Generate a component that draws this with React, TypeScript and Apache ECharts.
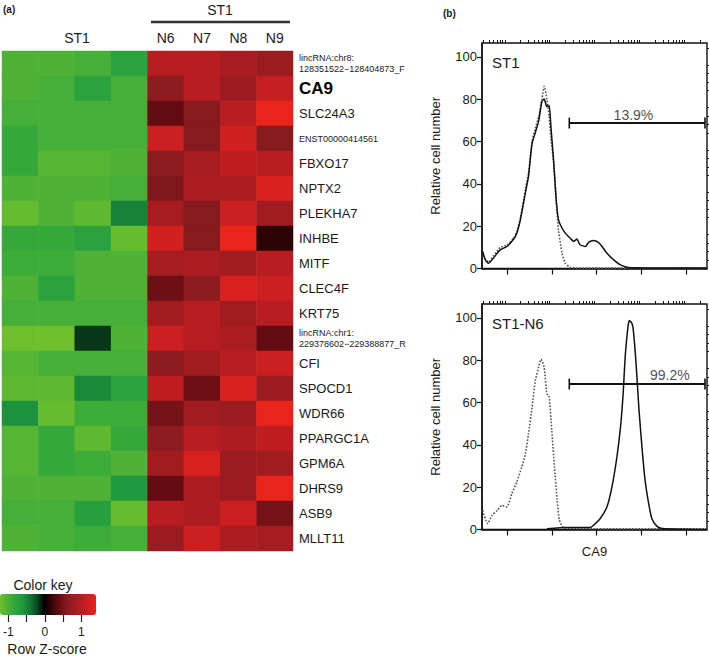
import React, { useEffect, useRef } from 'react';
import * as echarts from 'echarts';

const FONT = '"Liberation Sans", Arial, Helvetica, sans-serif';
const TXT = '#1a1a1a';

// ---------- Panel (a): heatmap ----------
const columns = ['ST1 a', 'ST1 b', 'ST1 c', 'ST1 d', 'N6', 'N7', 'N8', 'N9'];
const genes = [
  'lincRNA:chr8:128351522−128404873_F', 'CA9', 'SLC24A3', 'ENST00000414561', 'FBXO17',
  'NPTX2', 'PLEKHA7', 'INHBE', 'MITF', 'CLEC4F', 'KRT75', 'lincRNA:chr1:229378602−229388877_R',
  'CFI', 'SPOCD1', 'WDR66', 'PPARGC1A', 'GPM6A', 'DHRS9', 'ASB9', 'MLLT11',
];
// Row Z-scores, parental ST1 replicates (4 columns)
const zST1 = [
  [-1.0, -1.0, -0.95, -0.75],
  [-1.0, -0.95, -0.75, -0.95],
  [-0.95, -0.95, -0.95, -0.95],
  [-0.85, -0.95, -0.95, -0.95],
  [-0.85, -1.05, -1.05, -1.0],
  [-1.0, -1.0, -1.0, -0.95],
  [-1.15, -1.0, -1.1, -0.45],
  [-0.85, -0.85, -0.75, -1.15],
  [-0.9, -0.9, -1.0, -1.0],
  [-1.0, -0.75, -1.0, -1.0],
  [-0.95, -0.95, -0.95, -0.95],
  [-1.2, -1.2, -0.15, -1.0],
  [-1.05, -0.95, -0.95, -0.95],
  [-1.1, -1.1, -0.5, -0.75],
  [-0.55, -1.15, -0.9, -0.9],
  [-1.05, -0.85, -1.1, -0.85],
  [-1.05, -0.85, -0.9, -1.0],
  [-1.0, -1.0, -1.0, -0.6],
  [-0.95, -0.95, -0.7, -1.15],
  [-1.0, -0.95, -0.9, -0.95],
];
// Row Z-scores, clones N6, N7, N8, N9
const zN = [
  [1.0, 1.0, 0.85, 0.75],
  [0.65, 1.0, 0.75, 1.1],
  [0.4, 0.6, 1.0, 1.4],
  [1.15, 0.6, 1.2, 0.6],
  [0.65, 0.85, 1.05, 1.0],
  [0.55, 0.9, 0.9, 1.25],
  [0.85, 0.6, 1.15, 0.8],
  [1.2, 0.6, 1.4, 0.15],
  [0.85, 0.9, 0.8, 1.0],
  [0.45, 0.65, 1.25, 1.15],
  [0.8, 1.0, 0.8, 1.0],
  [1.15, 1.0, 0.9, 0.4],
  [0.65, 0.8, 1.0, 1.15],
  [1.05, 0.45, 1.25, 0.75],
  [0.5, 0.8, 0.75, 1.4],
  [0.65, 1.0, 0.9, 1.05],
  [0.8, 1.25, 0.75, 0.8],
  [0.4, 0.9, 0.75, 1.4],
  [1.0, 0.9, 1.15, 0.5],
  [0.75, 1.15, 0.9, 0.85],
];
const keyMin = -1.2;
const keyMax = 1.4;
const keyColors = [
  '#6ebf2c', '#4db236', '#2fa53c', '#1f9a3e', '#157a36', '#0b4a22', '#000000',
  '#3c0508', '#640c12', '#861a1e', '#a01c21', '#b81d22', '#d21f1f', '#ea231b',
];
const keyTicks = [-1, -0.5, 0, 0.5, 1];
const keyLabels = [-1, 0, 1];

// ---------- Panel (b): flow cytometry histograms (x = log10 CA9 intensity) ----------
const X_MIN = 0.444;
const X_MAX = 5.46;
const Y_MAX = 106.5;
const majorDecades = [1, 2, 3, 4, 5];
const yMajor = [0, 20, 40, 60, 80, 100];

const st1X = [0.46, 0.52, 0.59, 0.70, 0.85, 1.00, 1.15, 1.22, 1.30, 1.41, 1.48, 1.56, 1.63, 1.71, 1.78, 1.83, 1.89, 1.94, 1.98, 2.04, 2.10, 2.15, 2.23, 2.30, 2.41, 2.49, 2.56, 2.63, 2.75, 2.82, 2.93, 3.04, 3.12, 3.23, 3.38, 3.53, 3.68, 3.82, 4.50, 5.44];
const st1Stained = [8, 4, 2.5, 5, 8.8, 10.4, 13.9, 16.7, 23, 35.6, 43.5, 59, 64, 70, 79, 80, 76.5, 77, 67, 51, 32, 23, 19, 16.7, 14.3, 12.8, 13.9, 11.2, 10.4, 12.3, 13.2, 12.3, 10.4, 7.2, 4.1, 1.7, 0.6, 0.3, 0.2, 0.2];
const st1Control = [6, 4.5, 3, 6, 10, 11, 14.5, 17.5, 24, 37, 45, 60, 66, 72, 80, 86, 80, 72, 62, 50, 32, 18, 7, 2.5, 0.5, 0.3, 0.2, 0.2, 0.2, 0.2, 0.2, 0.2, 0.2, 0.2, 0.2, 0.2, 0.2, 0.2, 0.2, 0.2];

const n6CtrlX = [0.46, 0.57, 0.67, 0.78, 0.89, 1.00, 1.11, 1.22, 1.33, 1.41, 1.48, 1.56, 1.63, 1.71, 1.76, 1.83, 1.89, 1.94, 2.00, 2.06, 2.12, 2.17, 2.26, 2.41, 3.0, 4.0, 5.44];
const n6CtrlY = [9, 2.8, 6.7, 9, 11.4, 10.7, 17, 22.4, 29.5, 35.7, 45, 57.7, 70, 77, 80.4, 76.5, 64, 63, 46.7, 29.5, 13.8, 4.4, 0.9, 0.5, 0.3, 0.3, 0.3];
const n6StainX = [1.89, 2.34, 2.86, 2.93, 3.08, 3.23, 3.34, 3.45, 3.53, 3.59, 3.64, 3.70, 3.73, 3.79, 3.82, 3.88, 3.94, 4.01, 4.08, 4.16, 4.23, 4.34, 4.46, 5.44];
const n6StainY = [0.4, 1, 1, 2, 5.2, 10.7, 20, 34, 48, 64, 82.8, 96, 98.7, 97.2, 93.7, 78, 57.7, 38.9, 23.2, 12.2, 5.2, 1.6, 0.5, 0];

const gateX = [2.39, 5.415];
const gateY = 68.7;
const gateLabels = ['13.9%', '99.2%'];
const gateLabelPos = [[3.82, 72.6], [4.63, 72.9]];

const minorDecadeTicks: number[] = [];
for (let k = 0; k <= 5; k++) {
  for (let m = 2; m <= 9; m++) {
    const v = k + Math.log10(m);
    if (v > X_MIN && v < X_MAX) minorDecadeTicks.push(v);
  }
}
const yMinor: number[] = [];
for (let v = 4; v < Y_MAX; v += 4) if (v % 20 !== 0) yMinor.push(v);

const pair = (xs: number[], ys: number[]) => xs.map((x, i) => [x, ys[i]]);

const heatData: number[][] = [];
genes.forEach((_, r) => {
  zST1[r].forEach((v, c) => heatData.push([c, r, v]));
  zN[r].forEach((v, c) => heatData.push([c + 4, r, v]));
});

function geneFormatter(v: string) {
  if (v === 'CA9') return '{b|CA9}';
  if (v.startsWith('ENST')) return '{s|' + v + '}';
  const m = v.match(/^(lincRNA:chr\d+:)(.*)$/);
  if (m) return '{s|' + m[1] + '}\n{s|' + m[2] + '}';
  return '{n|' + v + '}';
}

const axisCol = '#111';

function histAxes(gi: number, withName: boolean) {
  const xMajor: any = {
    type: 'value', gridIndex: gi, min: X_MIN, max: X_MAX,
    axisLine: { show: true, onZero: false, lineStyle: { color: axisCol, width: 1.5 } },
    axisTick: { show: true, customValues: majorDecades, length: 6, lineStyle: { color: axisCol, width: 1.2 } },
    axisLabel: { show: false },
    splitLine: { show: false },
  };
  if (withName) {
    xMajor.name = 'CA9';
    xMajor.nameLocation = 'middle';
    xMajor.nameGap = 15;
    xMajor.nameTextStyle = { fontSize: 13, color: TXT, fontFamily: FONT };
  }
  const xMinor = {
    type: 'value', gridIndex: gi, min: X_MIN, max: X_MAX,
    axisLine: { show: true, onZero: false, lineStyle: { color: axisCol, width: 1.5, opacity: 0 } },
    axisTick: { show: true, customValues: minorDecadeTicks, length: 3, lineStyle: { color: axisCol, width: 1 } },
    axisLabel: { show: false },
    splitLine: { show: false },
  };
  const yMaj = {
    type: 'value', gridIndex: gi, min: 0, max: Y_MAX,
    axisLine: { show: true, onZero: false, lineStyle: { color: axisCol, width: 1.5 } },
    axisTick: { show: true, customValues: yMajor, length: 5, lineStyle: { color: axisCol, width: 1.2 } },
    axisLabel: { customValues: yMajor, fontSize: 13, color: TXT, fontFamily: FONT, margin: 5 },
    splitLine: { show: false },
    name: 'Relative cell number', nameLocation: 'middle', nameGap: 40,
    nameTextStyle: { fontSize: 13, color: TXT, fontFamily: FONT },
  };
  const yMin = {
    type: 'value', gridIndex: gi, min: 0, max: Y_MAX,
    axisLine: { show: true, onZero: false, lineStyle: { color: axisCol, width: 1.5, opacity: 0 } },
    axisTick: { show: true, customValues: yMinor, length: 3, lineStyle: { color: axisCol, width: 1 } },
    axisLabel: { show: false },
    splitLine: { show: false },
  };
  return { x: [xMajor, xMinor], y: [yMaj, yMin] };
}

function histSeries(xi: number, yi: number, ctrl: number[][], stain: number[][], gi: number) {
  return [
    {
      type: 'line', xAxisIndex: xi, yAxisIndex: yi, data: ctrl, showSymbol: false, smooth: 0.2,
      lineStyle: { color: '#555', width: 1.6, type: 'dotted' }, z: 3,
    },
    {
      type: 'line', xAxisIndex: xi, yAxisIndex: yi, data: stain, showSymbol: false, smooth: 0.2,
      lineStyle: { color: '#111', width: 1.5 }, z: 4,
    },
    {
      type: 'line', xAxisIndex: xi, yAxisIndex: yi,
      data: gateX.map((x) => [x, gateY]),
      symbol: 'rect', symbolSize: [1.6, 11], showSymbol: true, showAllSymbol: true,
      lineStyle: { color: '#111', width: 2 }, itemStyle: { color: '#111' }, clip: false, z: 5,
    },
    {
      type: 'scatter', xAxisIndex: xi, yAxisIndex: yi,
      data: [gateLabelPos[gi]], symbolSize: 0,
      label: {
        show: true, position: 'inside', formatter: gateLabels[gi],
        fontSize: 14, color: TXT, fontFamily: FONT,
      },
    },
  ];
}

export default function App() {
  const ref = useRef<HTMLDivElement>(null);
  useEffect(() => {
    if (!ref.current) return;
    const chart = echarts.init(ref.current, null, { renderer: 'svg' });
    const top = histAxes(1, false);
    const bot = histAxes(2, true);
    const option: any = {
      animation: false,
      backgroundColor: '#fff',
      textStyle: { fontFamily: FONT },
      grid: [
        { left: 2, top: 51, width: 291, height: 500 },
        { left: 482, top: 43, width: 225, height: 225.5, show: true, borderColor: '#111', borderWidth: 1.4, backgroundColor: 'transparent' },
        { left: 482, top: 304, width: 225, height: 225.5, show: true, borderColor: '#111', borderWidth: 1.4, backgroundColor: 'transparent' },
        { left: 0, top: 614, width: 96, height: 1 },
      ],
      xAxis: [
        {
          type: 'category', gridIndex: 0, data: columns, position: 'top',
          axisLine: { show: false }, axisTick: { show: false }, splitLine: { show: false },
          axisLabel: {
            formatter: (v: string) => (v.startsWith('N') ? v : ''),
            fontSize: 14, color: TXT, fontFamily: FONT, margin: 6,
          },
        },
        ...top.x,
        ...bot.x,
        {
          type: 'value', gridIndex: 3, min: keyMin, max: keyMax,
          axisLine: { show: true, onZero: false, lineStyle: { color: '#222', opacity: 0 } },
          axisTick: { show: true, customValues: keyTicks, length: 7, lineStyle: { color: '#222', width: 1.2 } },
          axisLabel: { customValues: keyLabels, fontSize: 12, color: TXT, fontFamily: FONT, margin: 11 },
          splitLine: { show: false },
        },
      ],
      yAxis: [
        {
          type: 'category', gridIndex: 0, data: genes, inverse: true, position: 'right',
          axisLine: { show: false }, axisTick: { show: false }, splitLine: { show: false },
          axisLabel: {
            margin: 6, formatter: geneFormatter, color: TXT, fontFamily: FONT, fontSize: 13,
            rich: {
              n: { fontSize: 13, color: TXT, fontFamily: FONT },
              b: { fontSize: 17, fontWeight: 'bold', color: '#000', fontFamily: FONT },
              s: { fontSize: 9, lineHeight: 11.5, color: TXT, fontFamily: FONT },
            },
          },
        },
        ...top.y,
        ...bot.y,
        { type: 'value', gridIndex: 3, show: false, min: 0, max: 1 },
      ],
      visualMap: {
        type: 'continuous', seriesIndex: 0, min: keyMin, max: keyMax,
        orient: 'horizontal', left: 0, top: 594, itemWidth: 21, itemHeight: 96,
        calculable: false, hoverLink: false, padding: 0, text: null, showLabel: false,
        inRange: { color: keyColors },
      },
      series: [
        {
          type: 'heatmap', xAxisIndex: 0, yAxisIndex: 0, data: heatData,
          itemStyle: { borderWidth: 0 }, emphasis: { disabled: true },
        },
        ...histSeries(1, 1, pair(st1X, st1Control), pair(st1X, st1Stained), 0),
        ...histSeries(3, 3, pair(n6CtrlX, n6CtrlY), pair(n6StainX, n6StainY), 1),
      ],
      graphic: [
        { type: 'text', x: 3, y: 4, style: { text: '(a)', fontSize: 10, fontWeight: 'bold', fill: TXT, fontFamily: FONT } },
        { type: 'text', x: 443, y: 8, style: { text: '(b)', fontSize: 10, fontWeight: 'bold', fill: TXT, fontFamily: FONT } },
        { type: 'text', x: 220, y: 10, style: { text: 'ST1', fontSize: 14, fill: TXT, fontFamily: FONT, align: 'center', verticalAlign: 'middle' } },
        { type: 'line', shape: { x1: 151, y1: 22, x2: 290, y2: 22 }, style: { stroke: '#333', lineWidth: 2.5 } },
        { type: 'text', x: 77, y: 38, style: { text: 'ST1', fontSize: 14, fill: TXT, fontFamily: FONT, align: 'center', verticalAlign: 'middle' } },
        { type: 'text', x: 492, y: 62, style: { text: 'ST1', fontSize: 15, fill: TXT, fontFamily: FONT, align: 'left', verticalAlign: 'middle' } },
        { type: 'text', x: 492, y: 323, style: { text: 'ST1-N6', fontSize: 15, fill: TXT, fontFamily: FONT, align: 'left', verticalAlign: 'middle' } },
        { type: 'text', x: 43, y: 585, style: { text: 'Color key', fontSize: 14, fill: TXT, fontFamily: FONT, align: 'center', verticalAlign: 'middle' } },
        { type: 'text', x: 47, y: 649, style: { text: 'Row Z-score', fontSize: 14, fill: TXT, fontFamily: FONT, align: 'center', verticalAlign: 'middle' } },
      ],
    };
    chart.setOption(option);
    return () => chart.dispose();
  }, []);
  return (
    <div
      ref={ref}
      style={{ position: 'absolute', left: 0, top: 0, width: 709, height: 662, background: '#fff' }}
    />
  );
}
